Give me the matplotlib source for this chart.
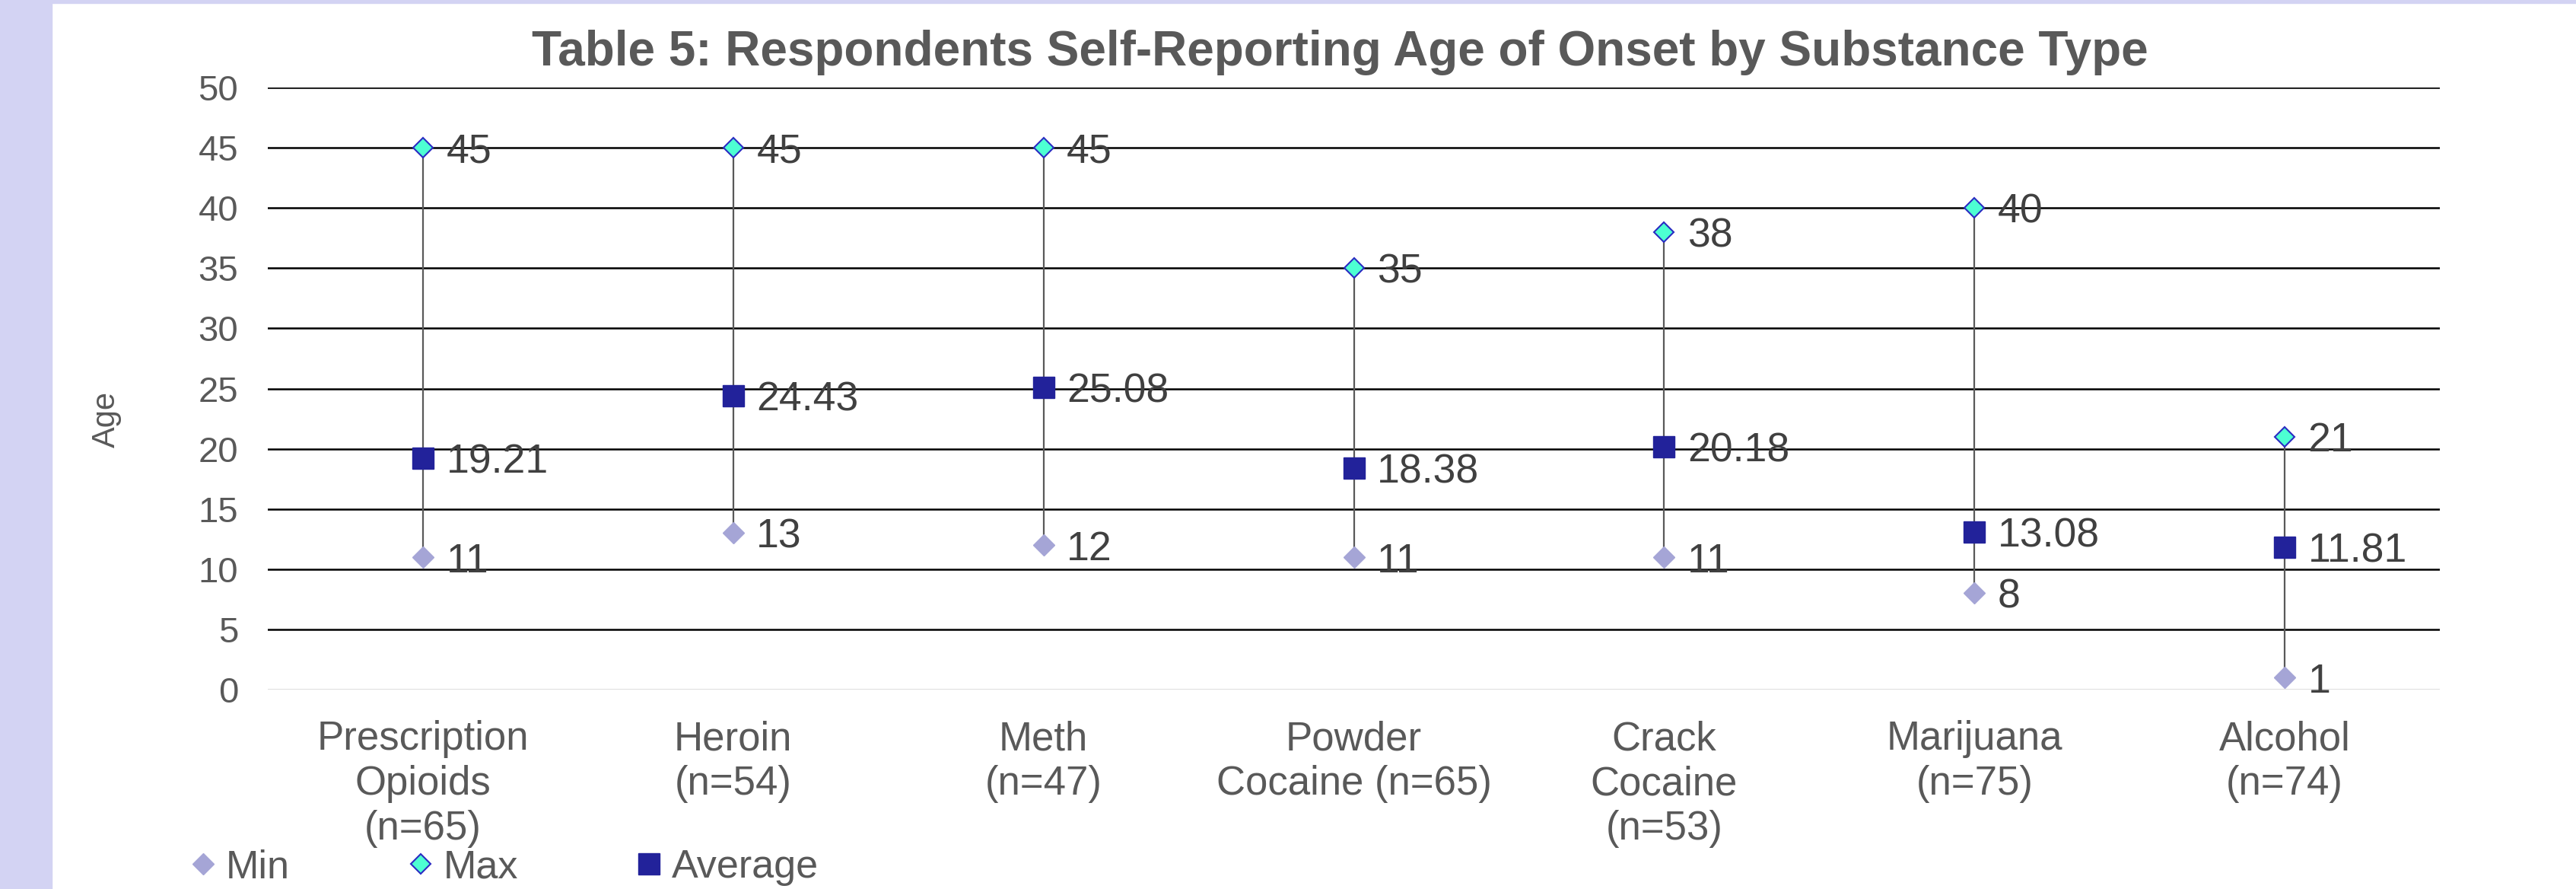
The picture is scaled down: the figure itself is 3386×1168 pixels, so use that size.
import matplotlib.pyplot as plt
from matplotlib.patches import Rectangle

plt.rcParams['font.family'] = ['Liberation Sans', 'DejaVu Sans']

# ---- data ----
categories = ['Prescription\nOpioids\n(n=65)', 'Heroin\n(n=54)', 'Meth\n(n=47)',
              'Powder\nCocaine (n=65)', 'Crack\nCocaine\n(n=53)', 'Marijuana\n(n=75)',
              'Alcohol\n(n=74)']
min_age = [11, 13, 12, 11, 11, 8, 1]
max_age = [45, 45, 45, 35, 38, 40, 21]
avg_age = [19.21, 24.43, 25.08, 18.38, 20.18, 13.08, 11.81]
y_ticks = [0, 5, 10, 15, 20, 25, 30, 35, 40, 45, 50]

W, H = 3386, 1168
fig = plt.figure(figsize=(W / 100, H / 100), dpi=100)

# lavender frame on the left and top
fig.patches.append(Rectangle((0, 0), 68 / W, 1, transform=fig.transFigure,
                             color='#D3D3F3', zorder=0))
fig.patches.append(Rectangle((0, 1 - 4 / H), 1, 4 / H, transform=fig.transFigure,
                             color='#D3D3F3', zorder=0))

ax = fig.add_axes([352 / W, 1 - 906 / H, (3207 - 352) / W, (906 - 115) / H])
x = list(range(len(categories)))

# grid
for t in y_ticks[1:]:
    ax.axhline(t, color='black', lw=1.8, zorder=1)
ax.axhline(0, color='#D9D9D9', lw=2, zorder=1)

# high-low lines
ax.vlines(x, min_age, max_age, color='#595959', lw=1.6, zorder=2)

mn, = ax.plot(x, min_age, ls='none', marker='D', ms=14, color='#A5A5D6',
              mec='#A5A5D6', zorder=3, label='Min')
mx, = ax.plot(x, max_age, ls='none', marker='D', ms=13, color='#4DFFD2',
              mec='#2B2BC2', mew=1.5, zorder=3, label='Max')
av, = ax.plot(x, avg_age, ls='none', marker='s', ms=20, color='#22229A',
              mec='#22229A', zorder=3, label='Average')

for xs, ys in ((x, min_age), (x, max_age), (x, avg_age)):
    for xi, yi in zip(xs, ys):
        ax.annotate(f'{yi:g}', (xi, yi), xytext=(22, -4), textcoords='offset points',
                    va='center', ha='left', fontsize=38.5, color='#404040', zorder=4)

ax.set_xlim(-0.5, len(categories) - 0.5)
ax.set_ylim(0, 50)
ax.set_yticks(y_ticks)
ax.set_xticks(x)
ax.set_xticklabels(categories, fontsize=38, color='#595959', linespacing=1.23)
ax.tick_params(axis='y', length=0, pad=28, labelsize=34, labelcolor='#595959')
ax.tick_params(axis='x', length=0, pad=29)
for s in ax.spines.values():
    s.set_visible(False)

fig.text(140 / W, 1 - 551 / H, 'Age', rotation=90, ha='center', va='center',
         fontsize=30, color='#595959')
fig.text(1761 / W, 1 - 69 / H, 'Table 5: Respondents Self-Reporting Age of Onset by Substance Type',
         ha='center', va='center', fontsize=46, fontweight='bold', color='#595959')

fig.legend(handles=[mn, mx, av], loc='center left', bbox_to_anchor=(247 / W, 1 - 1140 / H),
           ncol=3, frameon=False, fontsize=37.5, handlelength=0.75, handletextpad=0.2,
           columnspacing=2.93, borderpad=0, borderaxespad=0, numpoints=1,
           labelcolor='#595959')

fig.savefig('out.png', dpi=100)
